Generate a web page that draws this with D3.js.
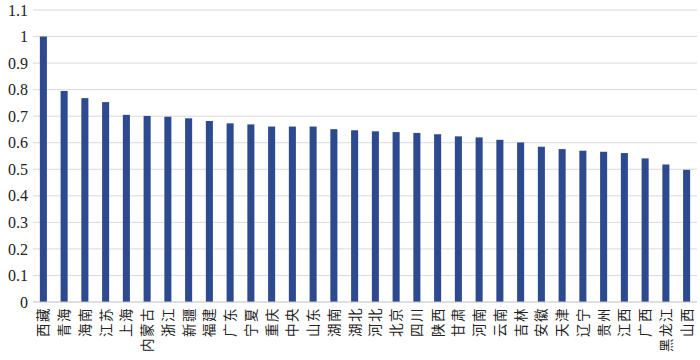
<!DOCTYPE html>
<html><head><meta charset="utf-8">
<script src="https://cdn.jsdelivr.net/npm/d3@7"></script>
<style>body{margin:0;background:#fff}</style>
</head><body>
<svg id="c" width="700" height="360"></svg>
<script>
const categories = ["西藏","青海","海南","江苏","上海","内蒙古","浙江","新疆","福建","广东","宁夏","重庆","中央","山东","湖南","湖北","河北","北京","四川","陕西","甘肃","河南","云南","吉林","安徽","天津","辽宁","贵州","江西","广西","黑龙江","山西"];
const values = [1.0,0.795,0.768,0.753,0.705,0.701,0.698,0.692,0.682,0.673,0.669,0.661,0.661,0.661,0.651,0.647,0.643,0.640,0.637,0.632,0.624,0.620,0.611,0.601,0.585,0.576,0.570,0.566,0.561,0.541,0.518,0.498];
const yTicks = [0,0.1,0.2,0.3,0.4,0.5,0.6,0.7,0.8,0.9,1,1.1];

(function(){
const svg = d3.select("#c");
const mLeft = 33, mRight = 697, mTop = 10, mBottom = 302;
const x = d3.scaleBand().domain(categories).range([mLeft, mRight]).paddingInner(0.66).paddingOuter(0.33);
const y = d3.scaleLinear().domain([0, 1.1]).range([mBottom, mTop]);

svg.append("g").selectAll("line").data(yTicks.filter(d => d > 0)).join("line")
  .attr("x1", mLeft).attr("x2", mRight)
  .attr("y1", d => y(d)).attr("y2", d => y(d))
  .attr("stroke", "#d9d9d9").attr("stroke-width", 1);

svg.append("g").selectAll("rect").data(values).join("rect")
  .attr("x", (d, i) => x(categories[i]))
  .attr("width", x.bandwidth())
  .attr("y", d => y(d))
  .attr("height", d => y(0) - y(d))
  .attr("fill", "#2E4A8F");

svg.append("line").attr("x1", mLeft).attr("x2", mRight)
  .attr("y1", y(0)).attr("y2", y(0))
  .attr("stroke", "#bfbfbf").attr("stroke-width", 1);

const yAxis = d3.axisLeft(y).tickValues(yTicks).tickSize(0).tickPadding(5)
  .tickFormat(d => d3.format("~g")(d));
const gy = svg.append("g").attr("transform", `translate(${mLeft},0)`).call(yAxis);
gy.select(".domain").remove();
gy.selectAll("text")
  .style("font-family", "'Liberation Serif', 'Times New Roman', serif")
  .style("font-size", "16px")
  .style("fill", "#222");

const xAxis = d3.axisBottom(x).tickSize(0).tickPadding(0);
const gx = svg.append("g").attr("transform", `translate(0,${y(0)})`).call(xAxis);
gx.select(".domain").remove();
gx.selectAll("text")
  .style("font-family", "'Noto Sans CJK SC', sans-serif")
  .style("font-size", "13.5px")
  .style("letter-spacing", "1.5px")
  .style("fill", "#222")
  .attr("text-anchor", "end")
  .attr("transform", "rotate(-90)")
  .attr("x", -5).attr("y", 0).attr("dy", "0.36em");
})();
</script>
</body></html>
